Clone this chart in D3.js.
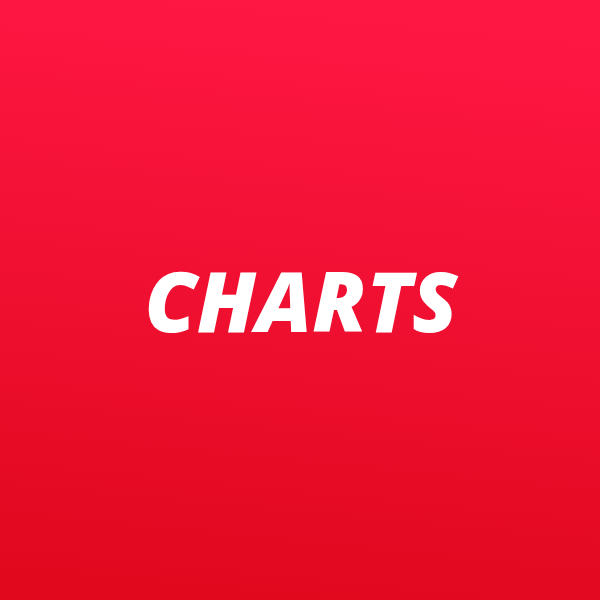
<!DOCTYPE html>
<html>
<head>
<meta charset="utf-8">
<script src="https://cdn.jsdelivr.net/npm/d3@7"></script>
<style>
  body { margin: 0; }
</style>
</head>
<body>
<div id="cover"></div>
<script>
var titles = ["CHARTS"];
var stopOffsets = [0, 1];
var stopColors = ["#ff1744", "#e1081e"];

var width = 600,
    height = 600;

var svg = d3.select("#cover")
    .append("svg")
        .attr("width", width)
        .attr("height", height);

// background gradient, top (slightly right) to bottom
var grad = svg.append("defs")
    .append("linearGradient")
        .attr("id", "bg")
        .attr("x1", "0.55").attr("y1", "0")
        .attr("x2", "0.45").attr("y2", "1");

grad.selectAll("stop")
    .data(stopOffsets)
    .enter().append("stop")
        .attr("offset", function(d){ return d; })
        .attr("stop-color", function(d, i){ return stopColors[i]; });

svg.append("rect")
    .attr("width", width)
    .attr("height", height)
    .attr("fill", "url(#bg)");

//title
svg.selectAll("text.title")
    .data(titles)
    .enter().append("text")
        .attr("class", "title")
        .attr("x", width/2 + 1)
        .attr("y", 332)
        .attr("text-anchor", "middle")
        .attr("font-family", "'Open Sans', sans-serif")
        .attr("font-weight", 800)
        .attr("font-style", "italic")
        .attr("font-size", "83px")
        .attr("fill", "#fff")
        .text(function(d){ return d; });
</script>
</body>
</html>
